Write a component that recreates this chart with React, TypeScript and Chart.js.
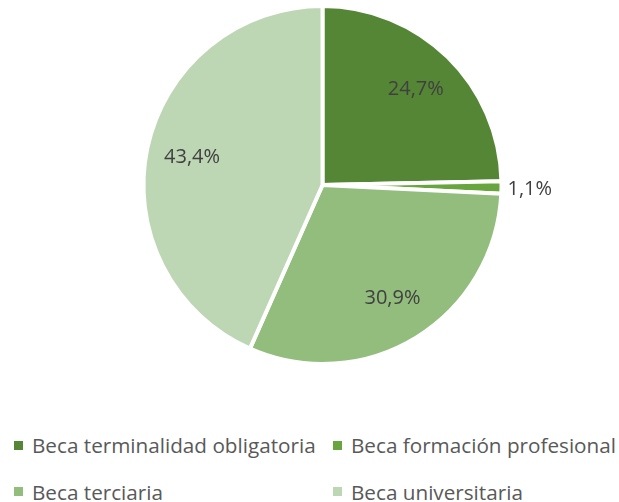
import React, { useEffect, useRef } from "react";
import { Chart, registerables } from "chart.js";

Chart.register(...registerables);

const categories = [
  "Beca terminalidad obligatoria",
  "Beca formación profesional",
  "Beca terciaria",
  "Beca universitaria",
];
const values = [24.7, 1.1, 30.9, 43.4];
const valueLabels = ["24,7%", "1,1%", "30,9%", "43,4%"];
const colors = ["#558636", "#69a53f", "#92bd7c", "#bdd6b3"];

const FONT = "'Open Sans', sans-serif";

const labelPlugin = {
  id: "sliceLabels",
  afterDatasetsDraw(chart: any) {
    const ctx = chart.ctx;
    const meta = chart.getDatasetMeta(0);
    const total = values.reduce((a, b) => a + b, 0);
    ctx.save();
    ctx.font = `20px ${FONT}`;
    ctx.fillStyle = "#404040";
    ctx.textBaseline = "middle";
    meta.data.forEach((arc: any, i: number) => {
      const { x, y, startAngle, endAngle, outerRadius } = arc.getProps(
        ["x", "y", "startAngle", "endAngle", "outerRadius"],
        true
      );
      const mid = (startAngle + endAngle) / 2;
      const share = values[i] / total;
      if (share < 0.05) {
        const r = outerRadius + 6;
        ctx.textAlign = "left";
        ctx.fillText(valueLabels[i], x + Math.cos(mid) * r, y + 2 + Math.sin(mid) * r);
      } else {
        const r = outerRadius * 0.745;
        ctx.textAlign = "center";
        ctx.fillText(valueLabels[i], x + Math.cos(mid) * r, y + Math.sin(mid) * r);
      }
    });
    ctx.restore();
  },
};

export default function App() {
  const canvasRef = useRef<HTMLCanvasElement | null>(null);

  useEffect(() => {
    document.body.style.margin = "0";
    const chart = new Chart(canvasRef.current as HTMLCanvasElement, {
      type: "pie",
      data: {
        labels: categories,
        datasets: [
          {
            data: values,
            backgroundColor: colors,
            borderColor: "#ffffff",
            borderWidth: 4,
            hoverBorderWidth: 4,
          },
        ],
      },
      options: {
        responsive: false,
        animation: false,
        radius: 179,
        layout: { padding: { left: 26, right: 0, top: 0, bottom: 0 } },
        plugins: {
          legend: { display: false },
          tooltip: { enabled: false },
        },
      } as any,
      plugins: [labelPlugin],
    });
    return () => chart.destroy();
  }, []);

  return (
    <div style={{ position: "relative", width: 619, height: 502, background: "#fff", overflow: "hidden" }}>
      <canvas
        ref={canvasRef}
        width={619}
        height={370}
        style={{ position: "absolute", left: 0, top: 0, width: 619, height: 370 }}
      />
      <div
        style={{
          position: "absolute",
          left: 14,
          top: 429,
          display: "grid",
          gridTemplateColumns: "319px auto",
          gridAutoRows: "46.5px",
          fontFamily: FONT,
          fontSize: 20.7,
          color: "#595959",
          whiteSpace: "nowrap",
        }}
      >
        {categories.map((c, i) => (
          <div key={c} style={{ display: "flex", alignItems: "center", height: 32 }}>
            <span
              style={{
                display: "inline-block",
                width: 9,
                height: 9,
                background: colors[i],
                marginRight: 9,
                flex: "none",
              }}
            />
            <span>{c}</span>
          </div>
        ))}
      </div>
    </div>
  );
}
